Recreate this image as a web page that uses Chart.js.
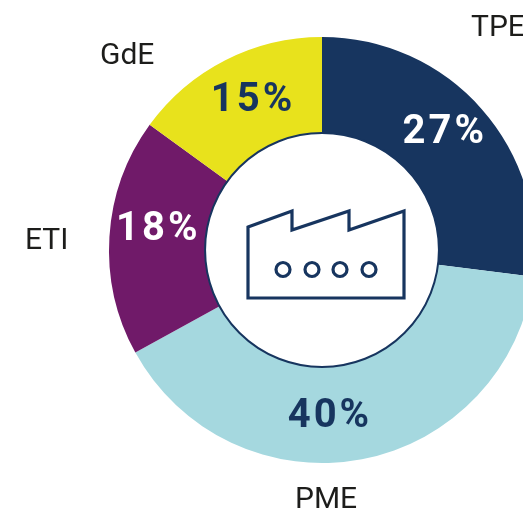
<!DOCTYPE html>
<html>
<head>
<meta charset="utf-8">
<style>
    html, body { margin: 0; padding: 0; background: #fff; overflow: hidden; width: 523px; height: 509px; }
    canvas { display: block; }
</style>
<script src="https://cdn.jsdelivr.net/npm/chart.js@4"></script>
</head>
<body>
<canvas id="donutChart" width="644" height="509"></canvas>
<script>
const categories = ['TPE', 'PME', 'ETI', 'GdE'];
const shares = [27, 40, 18, 15];
const sliceColors = ['#17355f', '#a5d8df', '#701a69', '#e8e21c'];
const shareColors = ['#ffffff', '#17355f', '#ffffff', '#17355f'];

const NAVY = '#17355f';
const FONT = "Roboto, sans-serif";

// nudges from the middle of each slice, the percentages are not centred in the original
const shareNudge = [[-1, -8], [-23, 5], [1, -10], [6, -2]];
// names around the ring
const namePos = [[471, 28], [295, 500], [25, 241], [100, 56]];

const labelsPlugin = {
    id: 'labels',
    afterDatasetsDraw(chart) {
        const ctx = chart.ctx;
        const arcs = chart.getDatasetMeta(0).data;
        const { x: cx, y: cy, innerRadius } = arcs[0];

        ctx.save();

        // ring of the hole
        ctx.strokeStyle = NAVY;
        ctx.lineWidth = 2;
        ctx.beginPath();
        ctx.arc(cx, cy, innerRadius, 0, Math.PI * 2);
        ctx.stroke();

        // factory icon
        ctx.lineWidth = 3.2;
        ctx.lineJoin = 'miter';
        ctx.beginPath();
        ctx.moveTo(cx - 74, cy - 23);
        ctx.lineTo(cx - 30, cy - 39);
        ctx.lineTo(cx - 30, cy - 20);
        ctx.lineTo(cx + 27, cy - 39);
        ctx.lineTo(cx + 27, cy - 20);
        ctx.lineTo(cx + 82, cy - 39);
        ctx.lineTo(cx + 82, cy + 48);
        ctx.lineTo(cx - 74, cy + 48);
        ctx.closePath();
        ctx.stroke();
        [-39, -10, 18, 47].forEach(dx => {
            ctx.beginPath();
            ctx.arc(cx + dx, cy + 19.5, 7, 0, Math.PI * 2);
            ctx.stroke();
        });

        // percentages
        ctx.textAlign = 'center';
        ctx.textBaseline = 'middle';
        ctx.font = 'bold 40px ' + FONT;
        ctx.letterSpacing = '3px';
        arcs.forEach((arc, i) => {
            const p = arc.tooltipPosition();
            ctx.fillStyle = shareColors[i];
            ctx.fillText(shares[i] + '%', p.x + shareNudge[i][0], p.y + shareNudge[i][1]);
        });

        // names
        ctx.textAlign = 'left';
        ctx.font = '30px ' + FONT;
        ctx.letterSpacing = '0px';
        ctx.fillStyle = '#1d1d1b';
        categories.forEach((name, i) => {
            ctx.fillText(name, namePos[i][0], namePos[i][1]);
        });

        ctx.restore();
    }
};

new Chart(document.getElementById('donutChart').getContext('2d'), {
    type: 'doughnut',
    data: {
        labels: categories,
        datasets: [{
            data: shares,
            backgroundColor: sliceColors,
            borderWidth: 0
        }]
    },
    options: {
        responsive: false,
        animation: false,
        cutout: '54.9%',
        layout: { padding: { top: 37, bottom: 46 } },
        plugins: {
            legend: { display: false },
            tooltip: { enabled: false }
        }
    },
    plugins: [labelsPlugin]
});
</script>
</body>
</html>
